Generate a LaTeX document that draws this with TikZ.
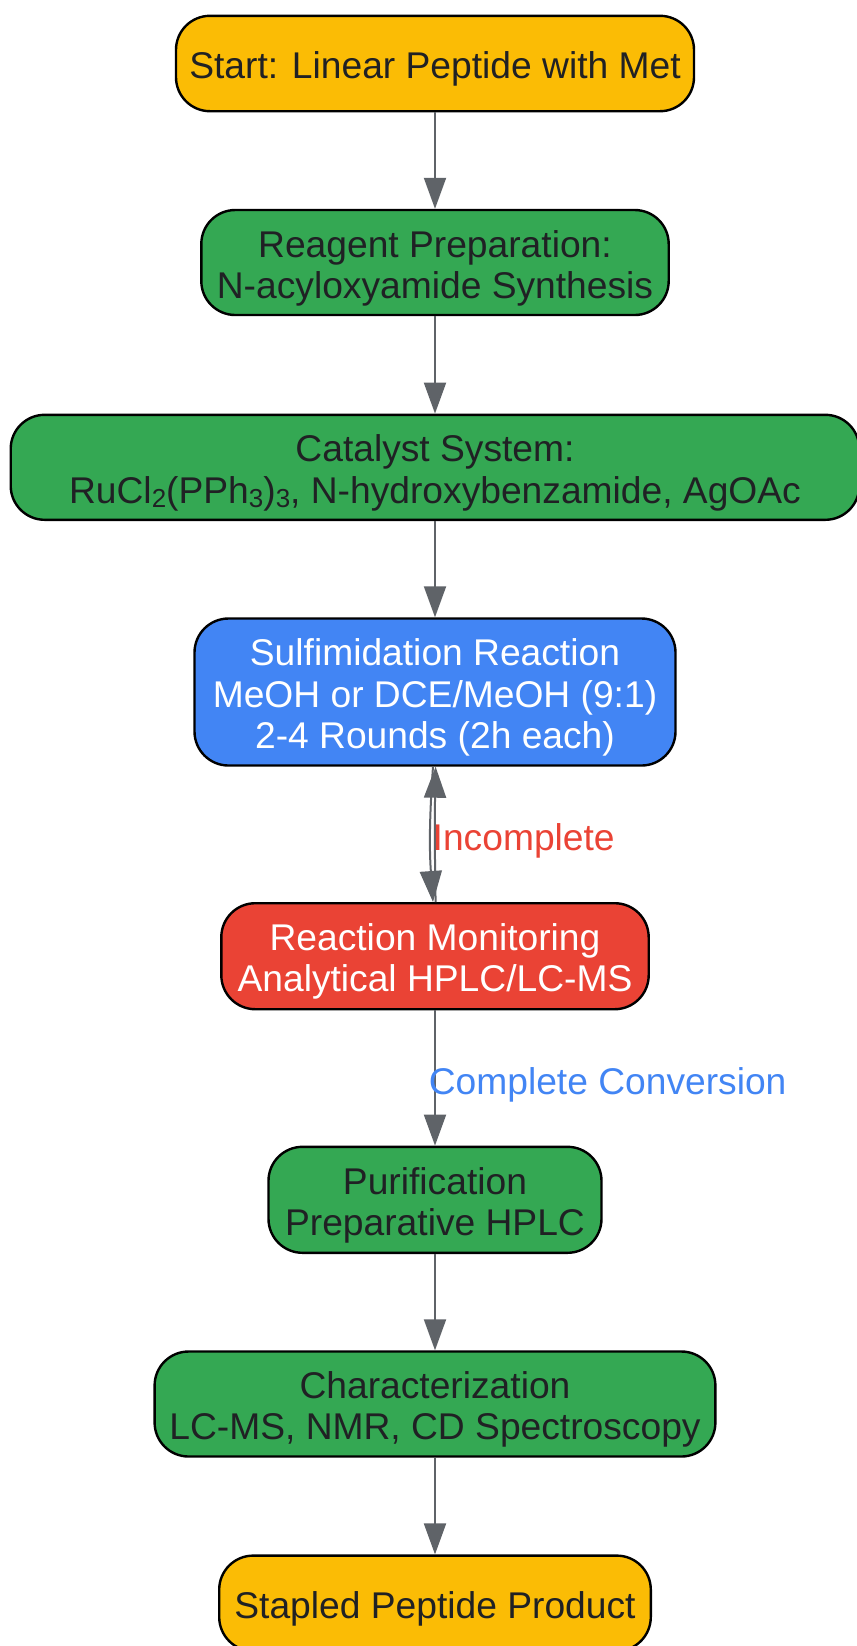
\documentclass[tikz,border=0pt]{standalone}
\usepackage{fontspec}
\setmainfont{Liberation Sans}
\usetikzlibrary{arrows.meta}
\definecolor{gyellow}{HTML}{FBBC05}
\definecolor{ggreen}{HTML}{34A853}
\definecolor{gblue}{HTML}{4285F4}
\definecolor{gred}{HTML}{EA4335}
\definecolor{ink}{HTML}{202124}
\definecolor{edge}{HTML}{5F6368}
\newcommand{\lowdigit}[1]{\raisebox{-0.12em}{\fontsize{13}{13}\selectfont #1}}
\newcommand{\tallstrut}{\rule{0pt}{19pt}}
\begin{document}
\begin{tikzpicture}[x=0.5pt,y=-0.5pt,
		box/.style={draw=black, line width=1.2pt, rounded corners=17pt, inner sep=0pt, align=center, text=ink, font=\fontsize{18.6}{20.6}\selectfont},
		flow/.style={draw=edge, line width=1pt, -{Triangle[length=15.5pt,width=11pt]}},
		lbl/.style={font=\fontsize{18.6}{20.6}\selectfont, anchor=west, inner sep=0pt, yshift=-3.2pt}]
		\useasboundingbox (0,0) rectangle (857,1646);
		% Steps
		\node[box, fill=gyellow, minimum width=259pt, minimum height=47.7pt] (start) at (435,63.5) {\tallstrut Start: Linear Peptide with Met};
		\node[box, fill=ggreen, minimum width=233.7pt, minimum height=52.5pt] (reagent) at (435,262.5) {\tallstrut Reagent Preparation:\\N-acyloxyamide Synthesis};
		\node[box, fill=ggreen, minimum width=424.3pt, minimum height=52.5pt] (cat) at (435,467.3) {\tallstrut Catalyst System:\\RuCl\lowdigit{2}(PPh\lowdigit{3})\lowdigit{3}, N-hydroxybenzamide, AgOAc};
		\node[box, fill=gblue, text=white, minimum width=240.5pt, minimum height=73.5pt] (sulf) at (435,692) {\tallstrut Sulfimidation Reaction\\MeOH or DCE/MeOH (9:1)\\2-4 Rounds (2h each)};
		\node[box, fill=gred, text=white, minimum width=213.7pt, minimum height=53pt] (mon) at (435,956.2) {\tallstrut Reaction Monitoring\\Analytical HPLC/LC-MS};
		\node[box, fill=ggreen, minimum width=166.5pt, minimum height=53pt] (pur) at (435,1199.8) {\tallstrut Purification\\Preparative HPLC};
		\node[box, fill=ggreen, minimum width=280.4pt, minimum height=52.5pt] (char) at (435,1404) {\tallstrut Characterization\\LC-MS, NMR, CD Spectroscopy};
		\node[box, fill=gyellow, minimum width=215.8pt, minimum height=47.7pt] (prod) at (435,1603.3) {\tallstrut Stapled Peptide Product};
		% Connectors
		\draw[flow] (start) -- (reagent);
		\draw[flow] (reagent) -- (cat);
		\draw[flow] (cat) -- (sulf);
		\draw[flow] ([xshift=-1pt]sulf.south) to[bend right=4] ([xshift=-1pt]mon.north);
		\draw[flow] ([xshift=0.3pt]mon.north) to[bend left=1] node[lbl, xshift=-1.6pt, text=gred] {Incomplete} ([xshift=0.3pt]sulf.south);
		\draw[flow] (mon) -- node[lbl, xshift=-3.6pt, text=gblue] {Complete Conversion} (pur);
		\draw[flow] (pur) -- (char);
		\draw[flow] (char) -- (prod);
	\end{tikzpicture}
\end{document}
